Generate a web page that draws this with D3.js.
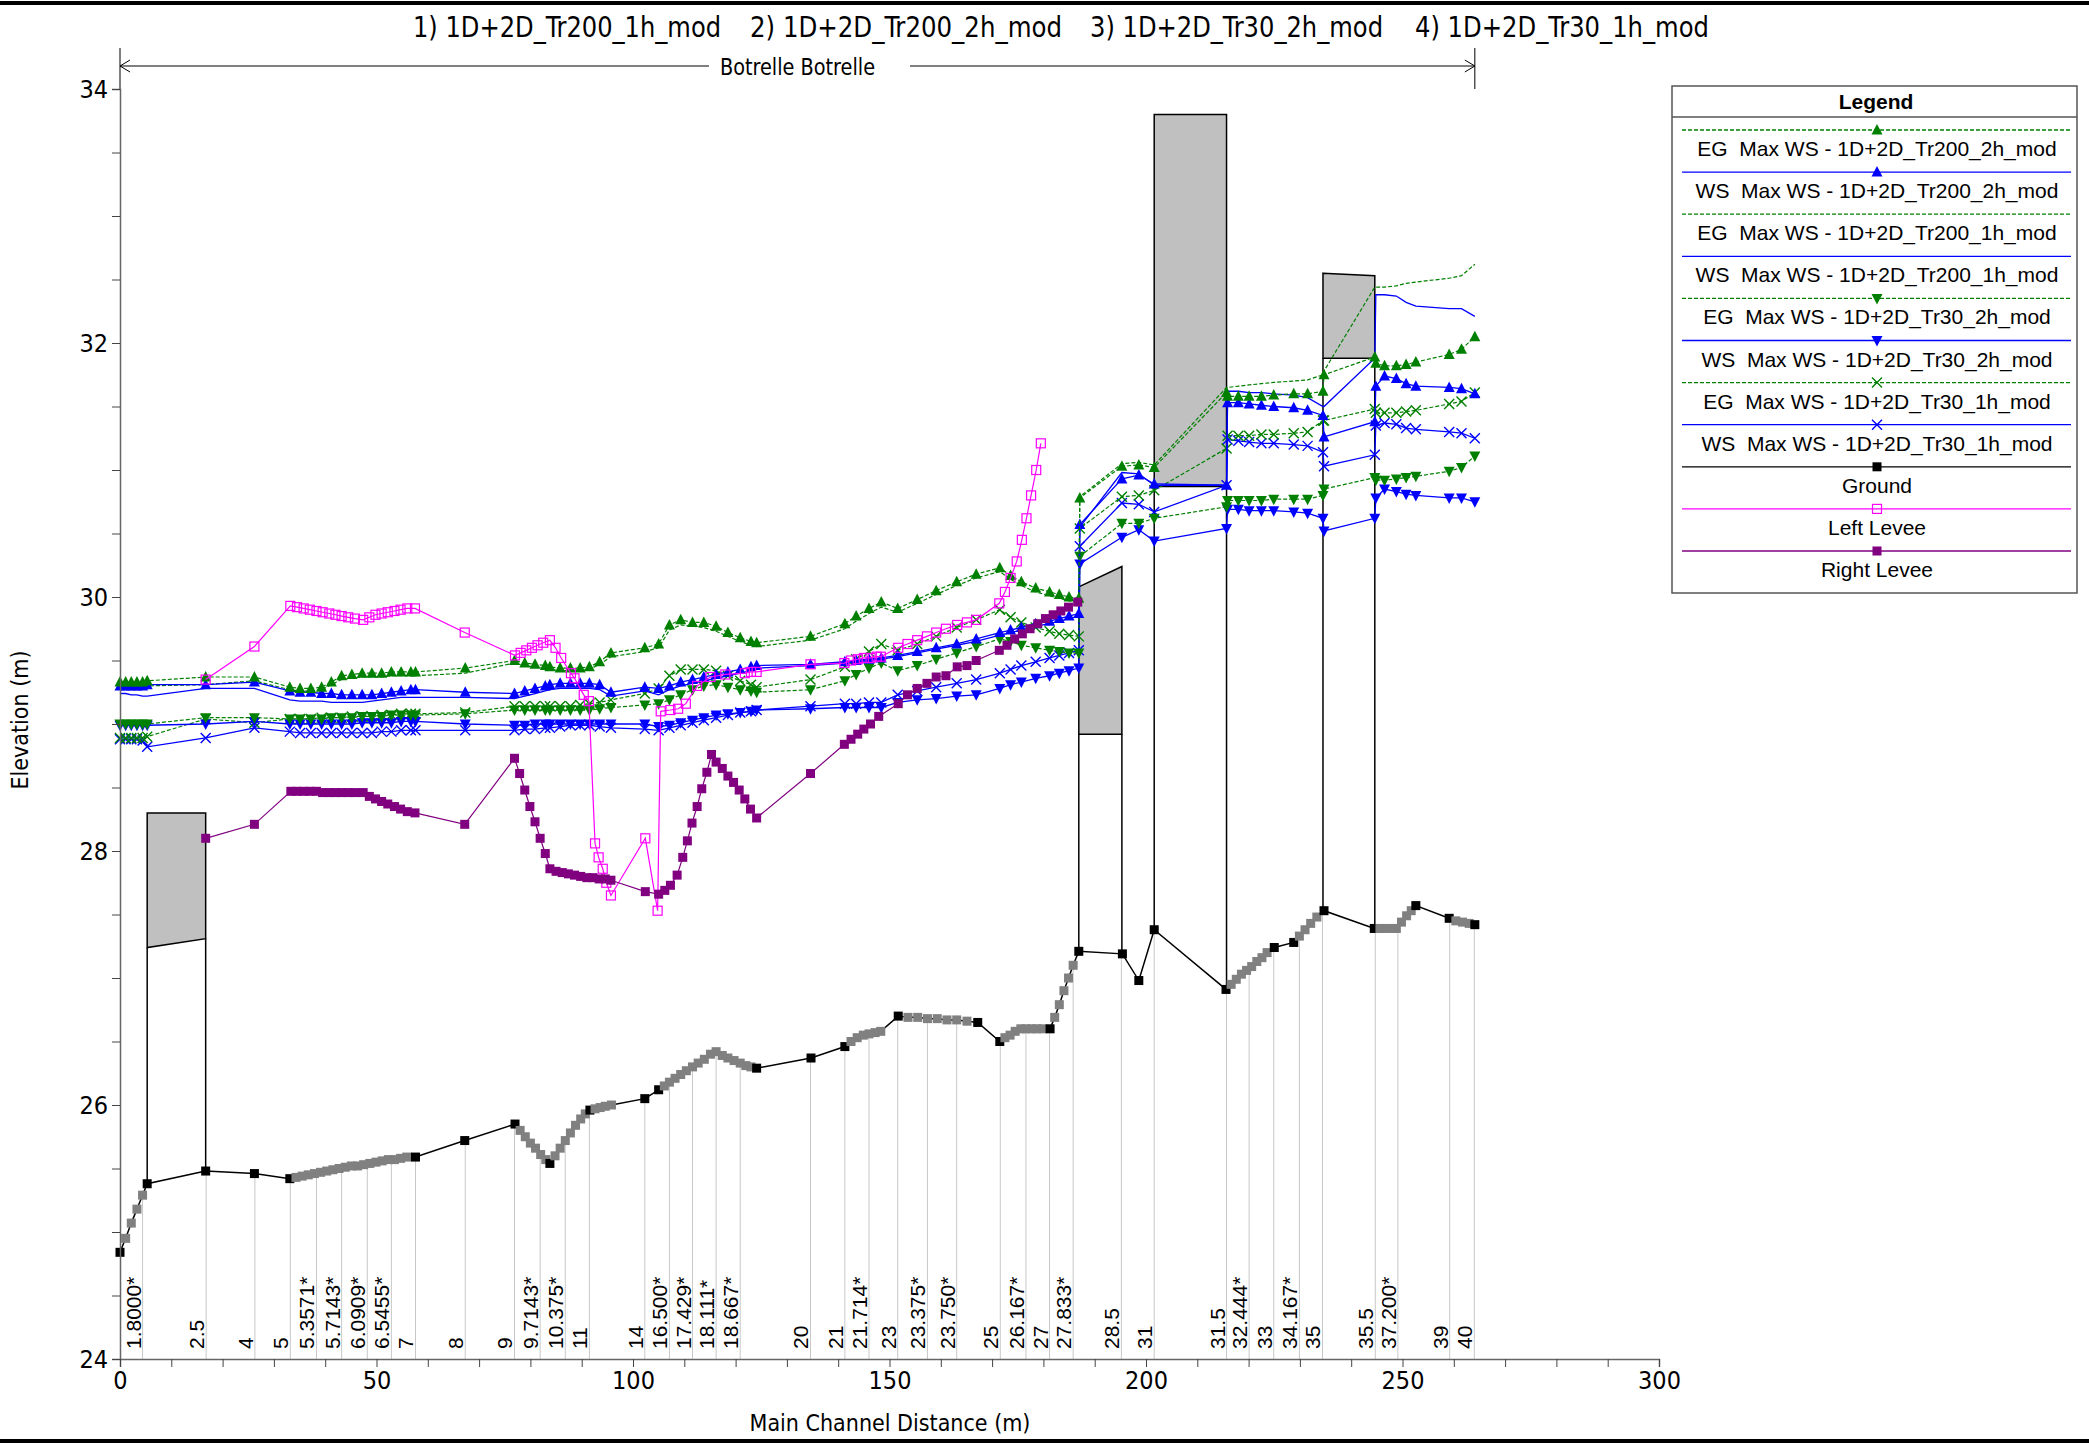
<!DOCTYPE html>
<html>
<head>
<meta charset="utf-8">
<script src="https://cdn.jsdelivr.net/npm/d3@7"></script>
<style>
body { margin: 0; background: #fff; }
svg { display: block; }
</style>
</head>
<body>
<svg id="chart" width="2089" height="1447"></svg>
<script>
// cross section distances (m) shared by all water surface / energy grade profiles
var stations = [0, 1.1, 2.2, 3.3, 4.4, 5.3,
    16.7, 26.2, 33.1,
    35.1, 37.2, 39.3, 41.2, 43.2, 45.2, 47.2, 49.1, 51.0, 52.9, 54.8, 56.7, 57.6,
    67.3, 76.9,
    78.9, 80.9, 82.9, 83.8, 85.8, 87.8, 89.7, 91.5, 93.5, 95.7,
    102.3, 105.0, 107.1, 109.3, 111.6, 113.8, 116.2, 118.5, 120.9, 123.0, 124.1,
    134.6, 141.3, 143.5, 146.0, 148.4, 151.6, 155.4, 159.1, 163.1, 166.9,
    171.5, 173.6, 175.7, 178.5, 181.2, 183.1, 185.0, 186.9,
    187.1, 195.3, 198.6, 201.6, 215.7, 215.9, 218.0, 220.1, 222.5, 224.9,
    228.8, 231.5, 234.5, 234.7, 244.6, 244.8, 246.5, 248.8, 250.7, 252.6,
    259.1, 261.5, 264.1];

var egTr200_2h = [29.33, 29.33, 29.33, 29.33, 29.33, 29.34,
    29.37, 29.37, 29.29,
    29.28, 29.28, 29.29, 29.33, 29.38, 29.39, 29.40, 29.40, 29.40, 29.41, 29.41, 29.41, 29.41,
    29.44, 29.50,
    29.48, 29.47, 29.46, 29.45, 29.44, 29.44, 29.44, 29.45, 29.49, 29.56,
    29.60, 29.63, 29.78, 29.82, 29.80, 29.80, 29.77, 29.72, 29.68, 29.65, 29.64,
    29.69, 29.79, 29.85, 29.91, 29.96, 29.91, 29.98, 30.05, 30.12, 30.18,
    30.23, 30.17, 30.12, 30.07, 30.04, 30.02, 30.00, 29.99,
    30.78, 31.03, 31.04, 31.02, 31.61, 31.58, 31.58, 31.58, 31.58, 31.59,
    31.60, 31.60, 31.62, 31.75, 31.89, 31.84, 31.82, 31.82, 31.83, 31.85,
    31.91, 31.95, 32.05];

var wsTr200_2h = [29.30, 29.30, 29.30, 29.30, 29.30, 29.31,
    29.31, 29.33, 29.26,
    29.25, 29.25, 29.24, 29.24, 29.23, 29.23, 29.23, 29.23, 29.24, 29.25, 29.26, 29.27, 29.27,
    29.25, 29.24,
    29.26, 29.28, 29.30, 29.31, 29.32, 29.32, 29.32, 29.32, 29.31, 29.25,
    29.29, 29.28, 29.30, 29.33, 29.35, 29.37, 29.39, 29.41, 29.43, 29.45, 29.46,
    29.47, 29.49, 29.50, 29.51, 29.52, 29.54, 29.57, 29.60, 29.63, 29.67,
    29.72, 29.74, 29.76, 29.79, 29.81, 29.83, 29.85, 29.87,
    30.57, 30.93, 30.96, 30.89, 30.88, 31.53, 31.53, 31.52, 31.51, 31.50,
    31.49, 31.47, 31.43, 31.26, 31.38, 31.66, 31.74, 31.72, 31.68, 31.66,
    31.65, 31.64, 31.60];

var egTr200_1h = [29.30, 29.30, 29.30, 29.30, 29.30, 29.30,
    29.31, 29.34, 29.27,
    29.26, 29.26, 29.27, 29.31, 29.35, 29.36, 29.37, 29.37, 29.37, 29.38, 29.38, 29.38, 29.38,
    29.40, 29.48,
    29.46, 29.45, 29.44, 29.43, 29.42, 29.42, 29.42, 29.43, 29.47, 29.53,
    29.57, 29.60, 29.74, 29.78, 29.77, 29.76, 29.73, 29.69, 29.65, 29.62, 29.61,
    29.66, 29.75, 29.81, 29.87, 29.92, 29.88, 29.95, 30.02, 30.09, 30.15,
    30.20, 30.14, 30.09, 30.04, 30.01, 29.99, 29.97, 29.96,
    30.79, 31.05, 31.06, 31.04, 31.65, 31.65, 31.66, 31.67, 31.68, 31.69,
    31.70, 31.71, 31.75, 31.78, 32.44, 32.44, 32.44, 32.45, 32.47, 32.48,
    32.51, 32.53, 32.62];

var wsTr200_1h = [29.24, 29.24, 29.23, 29.23, 29.22, 29.22,
    29.28, 29.28, 29.19,
    29.18, 29.18, 29.18, 29.17, 29.17, 29.17, 29.17, 29.18, 29.19, 29.20, 29.21, 29.21, 29.21,
    29.21, 29.20,
    29.22, 29.24, 29.26, 29.27, 29.28, 29.28, 29.28, 29.28, 29.27, 29.22,
    29.26, 29.23, 29.27, 29.30, 29.32, 29.34, 29.36, 29.38, 29.40, 29.42, 29.44,
    29.46, 29.48, 29.49, 29.50, 29.51, 29.53, 29.56, 29.59, 29.62, 29.65,
    29.70, 29.72, 29.74, 29.77, 29.79, 29.81, 29.83, 29.85,
    30.55, 30.98, 30.97, 30.88, 30.88, 31.62, 31.62, 31.61, 31.61, 31.60,
    31.59, 31.57, 31.50, 31.50, 31.88, 32.38, 32.38, 32.37, 32.32, 32.29,
    32.27, 32.27, 32.21];

var egTr30_2h = [29.00, 29.00, 29.00, 29.00, 29.00, 29.00,
    29.05, 29.05, 29.04,
    29.04, 29.04, 29.04, 29.05, 29.05, 29.05, 29.06, 29.06, 29.06, 29.07, 29.07, 29.07, 29.07,
    29.08, 29.11,
    29.11, 29.11, 29.11, 29.11, 29.11, 29.11, 29.11, 29.11, 29.12, 29.13,
    29.15, 29.16, 29.19, 29.23, 29.27, 29.30, 29.31, 29.29, 29.27, 29.26, 29.25,
    29.27, 29.34, 29.39, 29.44, 29.48, 29.42, 29.46, 29.51, 29.56, 29.61,
    29.67, 29.65, 29.62, 29.60, 29.58, 29.57, 29.56, 29.56,
    30.32, 30.58, 30.58, 30.62, 30.71, 30.76, 30.76, 30.76, 30.76, 30.77,
    30.77, 30.77, 30.80, 30.85, 30.94, 30.92, 30.92, 30.93, 30.94, 30.95,
    30.99, 31.02, 31.11];

var wsTr30_2h = [28.99, 28.99, 28.99, 28.99, 28.99, 28.99,
    29.00, 29.02, 29.00,
    29.00, 29.00, 29.00, 29.00, 29.00, 29.00, 29.01, 29.01, 29.01, 29.01, 29.02, 29.02, 29.02,
    29.00, 28.99,
    28.99, 29.00, 29.00, 29.00, 29.00, 29.00, 29.00, 29.00, 29.00, 29.00,
    29.00, 28.98, 28.99, 29.01, 29.03, 29.05, 29.07, 29.08, 29.09, 29.10, 29.11,
    29.12, 29.13, 29.13, 29.13, 29.13, 29.17, 29.19, 29.20, 29.22, 29.23,
    29.28, 29.31, 29.33, 29.36, 29.38, 29.40, 29.42, 29.44,
    30.26, 30.47, 30.53, 30.44, 30.54, 30.69, 30.69, 30.68, 30.68, 30.68,
    30.67, 30.66, 30.62, 30.52, 30.62, 30.78, 30.85, 30.83, 30.81, 30.80,
    30.78, 30.78, 30.75];

var egTr30_1h = [28.89, 28.89, 28.89, 28.89, 28.89, 28.90,
    29.04, 29.01, 29.04,
    29.04, 29.04, 29.05, 29.05, 29.05, 29.06, 29.06, 29.06, 29.07, 29.07, 29.08, 29.08, 29.08,
    29.09, 29.14,
    29.14, 29.14, 29.14, 29.14, 29.14, 29.14, 29.15, 29.16, 29.17, 29.19,
    29.24, 29.28, 29.38, 29.43, 29.43, 29.43, 29.42, 29.38, 29.34, 29.31, 29.29,
    29.35, 29.45, 29.51, 29.57, 29.63, 29.58, 29.63, 29.69, 29.76, 29.82,
    29.90, 29.84, 29.80, 29.76, 29.73, 29.71, 29.70, 29.69,
    30.54, 30.79, 30.80, 30.84, 31.17, 31.27, 31.27, 31.27, 31.28, 31.28,
    31.29, 31.30, 31.39, 31.39, 31.48, 31.45, 31.45, 31.45, 31.46, 31.47,
    31.52, 31.54, 31.61];

var wsTr30_1h = [28.88, 28.88, 28.88, 28.88, 28.87, 28.82,
    28.89, 28.97, 28.94,
    28.93, 28.93, 28.93, 28.93, 28.93, 28.93, 28.93, 28.93, 28.94, 28.94, 28.95, 28.95, 28.95,
    28.95, 28.95,
    28.96, 28.96, 28.97, 28.97, 28.98, 28.99, 28.99, 28.99, 28.98, 28.97,
    28.96, 28.95, 28.97, 28.99, 29.01, 29.03, 29.05, 29.07, 29.09, 29.10, 29.11,
    29.14, 29.16, 29.16, 29.17, 29.17, 29.23, 29.26, 29.29, 29.32, 29.35,
    29.40, 29.43, 29.46, 29.49, 29.52, 29.54, 29.56, 29.58,
    30.40, 30.74, 30.73, 30.67, 30.88, 31.24, 31.23, 31.22, 31.21, 31.21,
    31.20, 31.19, 31.14, 31.03, 31.12, 31.35, 31.37, 31.36, 31.33, 31.32,
    31.30, 31.29, 31.25];

// ground: [distance, elevation, interpolated section?]
var ground = [[0, 24.84, 0], [1.1, 24.95, 1], [2.2, 25.07, 1], [3.3, 25.18, 1], [4.4, 25.29, 1], [5.3, 25.38, 0],
    [16.7, 25.48, 0], [26.2, 25.46, 0], [33.1, 25.42, 0],
    [34.3, 25.43, 1], [35.5, 25.44, 1], [36.7, 25.45, 1], [37.9, 25.46, 1], [39.1, 25.47, 1], [40.3, 25.48, 1],
    [41.5, 25.49, 1], [42.7, 25.50, 1], [43.9, 25.51, 1], [45.1, 25.52, 1], [46.3, 25.52, 1], [47.5, 25.53, 1],
    [48.7, 25.54, 1], [49.9, 25.55, 1], [51.1, 25.56, 1], [52.3, 25.57, 1], [53.5, 25.57, 1], [54.7, 25.58, 1],
    [55.9, 25.59, 1], [57.6, 25.59, 0],
    [67.2, 25.72, 0], [77.0, 25.85, 0],
    [78.0, 25.80, 1], [79.0, 25.75, 1], [80.0, 25.70, 1], [81.0, 25.66, 1], [82.0, 25.61, 1], [83.0, 25.57, 1],
    [83.8, 25.54, 0],
    [84.8, 25.60, 1], [85.8, 25.66, 1], [86.8, 25.72, 1], [87.8, 25.78, 1], [88.8, 25.84, 1], [89.8, 25.89, 1], [90.7, 25.93, 1],
    [91.6, 25.96, 0],
    [92.6, 25.97, 1], [93.6, 25.98, 1], [94.6, 25.99, 1], [95.8, 26.00, 1],
    [102.3, 26.05, 0], [105.0, 26.12, 0],
    [106.1, 26.15, 1], [107.1, 26.18, 1], [108.2, 26.21, 1], [109.3, 26.24, 1], [110.4, 26.27, 1], [111.6, 26.30, 1],
    [112.7, 26.33, 1], [113.9, 26.36, 1], [115.1, 26.40, 1], [116.2, 26.42, 1],
    [117.4, 26.39, 1], [118.5, 26.37, 1], [119.7, 26.35, 1], [120.9, 26.33, 1], [122.0, 26.31, 1], [123.0, 26.30, 1],
    [124.1, 26.29, 0], [134.7, 26.37, 0], [141.3, 26.46, 0],
    [142.5, 26.50, 1], [143.7, 26.53, 1], [144.9, 26.55, 1], [146.0, 26.56, 1], [147.2, 26.57, 1], [148.3, 26.58, 1],
    [151.7, 26.70, 0],
    [153.6, 26.69, 1], [155.5, 26.69, 1], [157.4, 26.68, 1], [159.3, 26.68, 1], [161.2, 26.67, 1], [163.1, 26.67, 1], [165.1, 26.66, 1],
    [167.2, 26.65, 0], [171.5, 26.50, 0],
    [172.5, 26.53, 1], [173.5, 26.55, 1], [174.5, 26.58, 1], [175.6, 26.60, 1], [176.6, 26.60, 1], [177.7, 26.60, 1],
    [178.7, 26.60, 1], [179.8, 26.60, 1],
    [181.3, 26.60, 0],
    [182.2, 26.69, 1], [183.1, 26.79, 1], [184.0, 26.90, 1], [184.9, 27.00, 1], [185.8, 27.10, 1],
    [186.9, 27.21, 0], [195.4, 27.19, 0], [198.6, 26.98, 0], [201.6, 27.38, 0], [215.6, 26.91, 0],
    [216.6, 26.95, 1], [217.6, 26.99, 1], [218.6, 27.03, 1], [219.6, 27.06, 1], [220.6, 27.09, 1], [221.6, 27.13, 1],
    [222.6, 27.16, 1], [223.6, 27.20, 1],
    [225.0, 27.24, 0], [228.8, 27.28, 0],
    [229.9, 27.33, 1], [231.0, 27.38, 1], [232.1, 27.43, 1], [233.3, 27.48, 1],
    [234.7, 27.53, 0], [244.5, 27.39, 0],
    [245.6, 27.39, 1], [246.7, 27.39, 1], [247.8, 27.39, 1], [248.8, 27.39, 1], [249.8, 27.44, 1], [250.8, 27.49, 1], [251.7, 27.53, 1],
    [252.6, 27.57, 0], [259.1, 27.47, 0],
    [260.4, 27.45, 1], [261.7, 27.44, 1], [263.0, 27.43, 1],
    [264.1, 27.42, 0]];

var leftLevee = [[16.7, 29.35], [26.2, 29.61], [33.2, 29.93],
    [34.5, 29.92], [35.8, 29.91], [37.0, 29.90], [38.3, 29.89], [39.5, 29.88], [40.8, 29.87], [42.0, 29.86],
    [43.2, 29.85], [44.5, 29.84], [45.8, 29.83], [47.4, 29.82], [48.6, 29.84], [49.8, 29.86], [51.0, 29.87],
    [52.2, 29.88], [53.5, 29.89], [54.7, 29.90], [56.0, 29.91], [57.5, 29.91],
    [67.2, 29.72], [77.0, 29.54],
    [78.1, 29.56], [79.2, 29.58], [80.3, 29.60], [81.4, 29.62], [82.5, 29.64], [83.8, 29.66],
    [84.9, 29.60], [86.0, 29.52], [87.9, 29.40], [88.6, 29.36], [90.4, 29.23], [91.4, 29.18],
    [92.6, 28.06], [93.3, 27.95], [94.1, 27.86], [94.8, 27.75], [95.7, 27.65],
    [102.4, 28.10], [104.8, 27.53],
    [105.4, 29.10], [107.3, 29.11], [108.8, 29.12], [110.3, 29.16], [112.5, 29.30], [115.1, 29.37],
    [118.0, 29.39], [121.8, 29.40], [123.0, 29.41], [124.1, 29.41],
    [134.6, 29.47], [141.2, 29.48], [142.5, 29.50], [143.8, 29.51], [145.0, 29.52], [146.3, 29.52], [147.5, 29.53], [148.3, 29.53],
    [151.7, 29.60], [153.5, 29.63], [155.4, 29.66], [157.3, 29.69], [159.1, 29.72], [161.0, 29.75], [163.2, 29.78],
    [165.1, 29.80], [166.9, 29.82],
    [171.4, 29.95], [172.5, 30.04], [173.6, 30.15], [174.8, 30.28], [175.8, 30.45], [176.7, 30.62],
    [177.6, 30.80], [178.6, 31.00], [179.5, 31.21]];

var rightLevee = [[16.7, 28.10], [26.2, 28.21], [33.3, 28.47],
    [34.5, 28.47], [35.8, 28.47], [37.0, 28.47], [38.3, 28.47], [39.5, 28.46], [40.8, 28.46], [42.0, 28.46],
    [43.2, 28.46], [44.5, 28.46], [45.8, 28.46], [47.4, 28.46], [48.6, 28.43], [49.8, 28.41], [51.0, 28.39],
    [52.2, 28.37], [53.5, 28.35], [54.7, 28.33], [56.0, 28.31], [57.5, 28.30],
    [67.2, 28.21], [76.9, 28.73],
    [77.9, 28.61], [78.9, 28.48], [79.9, 28.35], [80.9, 28.23], [81.9, 28.10], [82.9, 27.98], [83.8, 27.86],
    [85.0, 27.84], [86.2, 27.83], [87.4, 27.82], [88.6, 27.81], [89.8, 27.80], [91.0, 27.79], [92.2, 27.79],
    [93.4, 27.78], [94.6, 27.78], [95.7, 27.77],
    [102.4, 27.68], [105.0, 27.66],
    [106.2, 27.69], [107.3, 27.73], [108.6, 27.81], [109.7, 27.95], [110.6, 28.08], [111.5, 28.22], [112.5, 28.35],
    [113.4, 28.49], [114.4, 28.62], [115.3, 28.76],
    [116.2, 28.70], [117.4, 28.65], [118.5, 28.59], [119.6, 28.54], [120.7, 28.48], [121.8, 28.41], [122.9, 28.33], [124.1, 28.26],
    [134.6, 28.61], [141.2, 28.84], [142.5, 28.88], [143.8, 28.92], [145.0, 28.96], [146.3, 29.00], [147.9, 29.06],
    [151.7, 29.16], [153.5, 29.23], [155.4, 29.28], [157.3, 29.32], [159.1, 29.37], [161.0, 29.38], [163.2, 29.45],
    [165.1, 29.46], [166.9, 29.50],
    [171.4, 29.58], [172.9, 29.62], [174.4, 29.67], [175.9, 29.71], [177.4, 29.75], [178.9, 29.79], [180.4, 29.83],
    [181.9, 29.86], [183.4, 29.89], [184.9, 29.92], [186.7, 29.96]];

// culverts: upstream / downstream face distance, deck top and deck low chord at each face
var culvertStart = [5.3, 186.9, 201.6, 234.5];
var culvertEnd = [16.7, 195.3, 215.7, 244.6];
var culvertTopStart = [28.30, 30.08, 33.80, 32.55];
var culvertTopEnd = [28.30, 30.24, 33.80, 32.53];
var culvertLowStart = [27.24, 28.92, 30.87, 31.88];
var culvertLowEnd = [27.31, 28.92, 30.87, 31.88];

// river station labels along the bottom
var rsLabels = ['1.8000*', '2.5', '4', '5', '5.3571*', '5.7143*', '6.0909*', '6.5455*', '7', '8', '9',
    '9.7143*', '10.375*', '11', '14', '16.500*', '17.429*', '18.111*', '18.667*', '20', '21', '21.714*',
    '23', '23.375*', '23.750*', '25', '26.167*', '27', '27.833*', '28.5', '31', '31.5', '32.444*', '33',
    '34.167*', '35', '35.5', '37.200*', '39', '40'];
var rsDist = [4.4, 16.8, 26.3, 33.2, 38.3, 43.2, 48.2, 52.9, 57.6, 67.3, 76.9,
    81.9, 86.8, 91.5, 102.3, 107.1, 111.6, 116.2, 120.9, 134.6, 141.3, 146.0,
    151.6, 157.4, 163.1, 171.6, 176.6, 181.2, 185.8, 195.2, 201.6, 215.7, 220.1, 224.9,
    229.9, 234.4, 244.7, 249.1, 259.2, 264.0];

var planTitles = ['1) 1D+2D_Tr200_1h_mod', '2) 1D+2D_Tr200_2h_mod', '3) 1D+2D_Tr30_2h_mod', '4) 1D+2D_Tr30_1h_mod'];
var riverName = 'Botrelle Botrelle';

var narrow = "'Liberation Sans Narrow', 'Arial Narrow', 'DejaVu Sans Condensed', sans-serif";
var regular = "'Liberation Sans', Arial, sans-serif";
var GREEN = '#008000', BLUE = '#0000ff', MAGENTA = '#ff00ff', PURPLE = '#800080';

var series = [
    {name: 'EG  Max WS - 1D+2D_Tr200_2h_mod', vals: egTr200_2h, color: GREEN, dash: '4,2', marker: 'up'},
    {name: 'WS  Max WS - 1D+2D_Tr200_2h_mod', vals: wsTr200_2h, color: BLUE, dash: null, marker: 'up'},
    {name: 'EG  Max WS - 1D+2D_Tr200_1h_mod', vals: egTr200_1h, color: GREEN, dash: '4,2', marker: null},
    {name: 'WS  Max WS - 1D+2D_Tr200_1h_mod', vals: wsTr200_1h, color: BLUE, dash: null, marker: null},
    {name: 'EG  Max WS - 1D+2D_Tr30_2h_mod', vals: egTr30_2h, color: GREEN, dash: '4,2', marker: 'down'},
    {name: 'WS  Max WS - 1D+2D_Tr30_2h_mod', vals: wsTr30_2h, color: BLUE, dash: null, marker: 'down'},
    {name: 'EG  Max WS - 1D+2D_Tr30_1h_mod', vals: egTr30_1h, color: GREEN, dash: '4,2', marker: 'x'},
    {name: 'WS  Max WS - 1D+2D_Tr30_1h_mod', vals: wsTr30_1h, color: BLUE, dash: null, marker: 'x'}
];

var svg = d3.select('#chart');
var x = d3.scaleLinear().domain([0, 300]).range([120, 1659]);
var y = d3.scaleLinear().domain([24, 34]).range([1359, 89]);

// draws one marker symbol at px, py
function marker(g, type, px, py, color) {
    if (type === 'up') {
        g.append('path').attr('d', 'M' + px + ',' + (py - 6) + 'L' + (px + 5.5) + ',' + (py + 4.5) + 'L' + (px - 5.5) + ',' + (py + 4.5) + 'Z')
            .attr('fill', color);
    } else if (type === 'down') {
        g.append('path').attr('d', 'M' + px + ',' + (py + 6) + 'L' + (px + 5.5) + ',' + (py - 4.5) + 'L' + (px - 5.5) + ',' + (py - 4.5) + 'Z')
            .attr('fill', color);
    } else if (type === 'x') {
        g.append('path').attr('d', 'M' + (px - 5) + ',' + (py - 5) + 'L' + (px + 5) + ',' + (py + 5) + 'M' + (px - 5) + ',' + (py + 5) + 'L' + (px + 5) + ',' + (py - 5))
            .attr('stroke', color).attr('stroke-width', 1.4).attr('fill', 'none');
    } else if (type === 'sq') {
        g.append('rect').attr('x', px - 4.5).attr('y', py - 4.5).attr('width', 9).attr('height', 9).attr('fill', color);
    } else if (type === 'osq') {
        g.append('rect').attr('x', px - 4.5).attr('y', py - 4.5).attr('width', 9).attr('height', 9)
            .attr('fill', 'none').attr('stroke', color).attr('stroke-width', 1.2);
    }
}

// frame lines
svg.append('line').attr('x1', 0).attr('x2', 2089).attr('y1', 3).attr('y2', 3).attr('stroke', '#000').attr('stroke-width', 4);
svg.append('line').attr('x1', 0).attr('x2', 2089).attr('y1', 1441).attr('y2', 1441).attr('stroke', '#000').attr('stroke-width', 4);

// plan titles
var titleX = [413, 750, 1090, 1415], titleW = [308, 312, 293, 294];
planTitles.forEach(function(t, i) {
    svg.append('text').attr('x', titleX[i]).attr('y', 37).text(t)
        .attr('font-family', narrow).attr('font-size', 29)
        .attr('textLength', titleW[i]).attr('lengthAdjust', 'spacingAndGlyphs');
});

// river reach arrow
var ay = 66;
svg.append('line').attr('x1', x(0)).attr('x2', 709).attr('y1', ay).attr('y2', ay).attr('stroke', '#000');
svg.append('line').attr('x1', 910).attr('x2', x(264.1)).attr('y1', ay).attr('y2', ay).attr('stroke', '#000');
[x(0), x(264.1)].forEach(function(px, i) {
    svg.append('line').attr('x1', px).attr('x2', px).attr('y1', 48).attr('y2', 89).attr('stroke', '#000');
    var s = i === 0 ? 1 : -1;
    svg.append('path').attr('d', 'M' + (px + s * 10) + ',' + (ay - 6) + 'L' + px + ',' + ay + 'L' + (px + s * 10) + ',' + (ay + 6))
        .attr('fill', 'none').attr('stroke', '#000');
});
svg.append('text').attr('x', 720).attr('y', 75).text(riverName)
    .attr('font-family', narrow).attr('font-size', 23)
    .attr('textLength', 155).attr('lengthAdjust', 'spacingAndGlyphs');

// ground elevation lookup (for the station drop lines)
function groundAt(d) {
    for (var i = 1; i < ground.length; i++) {
        if (ground[i][0] >= d) {
            var a = ground[i - 1], b = ground[i];
            return a[1] + (b[1] - a[1]) * (d - a[0]) / (b[0] - a[0]);
        }
    }
    return ground[ground.length - 1][1];
}

// station drop lines and labels
var gl = svg.append('g');
rsDist.forEach(function(d, i) {
    gl.append('line').attr('x1', x(d)).attr('x2', x(d)).attr('y1', y(24)).attr('y2', y(groundAt(d)))
        .attr('stroke', '#c8c8c8').attr('stroke-width', 1);
    gl.append('text').attr('transform', 'translate(' + (x(d) - 2) + ',1349) rotate(-90)')
        .text(rsLabels[i]).attr('font-family', regular).attr('font-size', 21);
});

// culverts
var gc = svg.append('g');
for (var c = 0; c < culvertStart.length; c++) {
    var pts = [[culvertStart[c], culvertTopStart[c]], [culvertEnd[c], culvertTopEnd[c]],
               [culvertEnd[c], culvertLowEnd[c]], [culvertStart[c], culvertLowStart[c]]];
    gc.append('path').attr('d', 'M' + pts.map(function(p) { return x(p[0]) + ',' + y(p[1]); }).join('L') + 'Z')
        .attr('fill', '#c0c0c0').attr('stroke', '#000').attr('stroke-width', 1.5);
    gc.append('line').attr('x1', x(culvertStart[c])).attr('x2', x(culvertStart[c]))
        .attr('y1', y(culvertLowStart[c])).attr('y2', y(groundAt(culvertStart[c]))).attr('stroke', '#000').attr('stroke-width', 1.5);
    gc.append('line').attr('x1', x(culvertEnd[c])).attr('x2', x(culvertEnd[c]))
        .attr('y1', y(culvertLowEnd[c])).attr('y2', y(groundAt(culvertEnd[c]))).attr('stroke', '#000').attr('stroke-width', 1.5);
}

// profiles, drawn bottom of legend first so Tr200_2h ends on top
var gs = svg.append('g');
var line = d3.line().x(function(d) { return x(d[0]); }).y(function(d) { return y(d[1]); });
series.slice().reverse().forEach(function(s) {
    var pts = stations.map(function(d, i) { return [d, s.vals[i]]; });
    gs.append('path').attr('d', line(pts)).attr('fill', 'none').attr('stroke', s.color)
        .attr('stroke-width', s.dash ? 1.2 : 1.3).attr('stroke-dasharray', s.dash);
    if (s.marker) {
        pts.forEach(function(p) { marker(gs, s.marker, x(p[0]), y(p[1]), s.color); });
    }
});

// ground
var gg = svg.append('g');
gg.append('path').attr('d', line(ground)).attr('fill', 'none').attr('stroke', '#000').attr('stroke-width', 1.5);
ground.forEach(function(p) {
    marker(gg, 'sq', x(p[0]), y(p[1]), p[2] ? '#808080' : '#000');
});

// levees
var gv = svg.append('g');
gv.append('path').attr('d', line(leftLevee)).attr('fill', 'none').attr('stroke', MAGENTA).attr('stroke-width', 1.2);
leftLevee.forEach(function(p) { marker(gv, 'osq', x(p[0]), y(p[1]), MAGENTA); });
gv.append('path').attr('d', line(rightLevee)).attr('fill', 'none').attr('stroke', PURPLE).attr('stroke-width', 1.2);
rightLevee.forEach(function(p) { marker(gv, 'sq', x(p[0]), y(p[1]), PURPLE); });

// axes
var yAxis = d3.axisLeft(y).tickValues(d3.range(24, 34.01, 0.5)).tickSize(8)
    .tickFormat(function(d) { return d % 2 === 0 ? d : ''; });
var ya = svg.append('g').attr('transform', 'translate(' + x(0) + ',0)').call(yAxis);
var xAxis = d3.axisBottom(x).tickValues(d3.range(0, 301, 10)).tickSize(8)
    .tickFormat(function(d) { return d % 50 === 0 ? d : ''; });
var xa = svg.append('g').attr('transform', 'translate(0,' + y(24) + ')').call(xAxis);
[ya, xa].forEach(function(a) {
    a.select('.domain').attr('stroke', '#666').attr('stroke-width', 1.5);
    a.selectAll('.tick line').attr('stroke', '#444');
    a.selectAll('text').attr('font-family', narrow).attr('font-size', 25).attr('fill', '#000');
});
ya.selectAll('text').attr('x', -12);
xa.selectAll('text').attr('y', 12);

svg.append('text').attr('transform', 'translate(28,720) rotate(-90)').attr('text-anchor', 'middle')
    .text('Elevation (m)').attr('font-family', narrow).attr('font-size', 23);
svg.append('text').attr('x', 890).attr('y', 1431).attr('text-anchor', 'middle')
    .text('Main Channel Distance (m)').attr('font-family', narrow).attr('font-size', 23);

// legend
var lg = svg.append('g');
lg.append('rect').attr('x', 1672).attr('y', 86).attr('width', 405).attr('height', 507)
    .attr('fill', '#fff').attr('stroke', '#555').attr('stroke-width', 1.5);
lg.append('line').attr('x1', 1672).attr('x2', 2077).attr('y1', 117).attr('y2', 117).attr('stroke', '#555').attr('stroke-width', 1.5);
lg.append('text').attr('x', 1876).attr('y', 109).attr('text-anchor', 'middle').text('Legend')
    .attr('font-family', regular).attr('font-size', 21).attr('font-weight', 'bold');
var legendItems = series.map(function(s) { return {name: s.name, color: s.color, dash: s.dash, marker: s.marker}; })
    .concat([{name: 'Ground', color: '#000', dash: null, marker: 'sq'},
             {name: 'Left Levee', color: MAGENTA, dash: null, marker: 'osq'},
             {name: 'Right Levee', color: PURPLE, dash: null, marker: 'sq'}]);
legendItems.forEach(function(it, i) {
    var ly = 130 + i * 42.1;
    lg.append('line').attr('x1', 1682).attr('x2', 2071).attr('y1', ly).attr('y2', ly)
        .attr('stroke', it.color).attr('stroke-width', 1.3).attr('stroke-dasharray', it.dash);
    if (it.marker) marker(lg, it.marker, 1877, ly, it.color);
    lg.append('text').attr('x', 1877).attr('y', ly + 26).attr('text-anchor', 'middle')
        .attr('xml:space', 'preserve').style('white-space', 'pre')
        .text(it.name).attr('font-family', regular).attr('font-size', 21);
});
</script>
</body>
</html>
